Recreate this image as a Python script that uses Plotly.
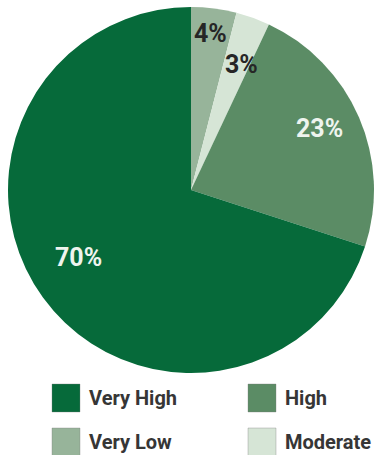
import math
import plotly.graph_objects as go

labels = ["Very Low", "Moderate", "High", "Very High"]
values = [4, 3, 23, 70]
colors = ["#97b49a", "#d6e5d6", "#5b8c65", "#066a3a"]
text_colors = ["#262626", "#262626", "#eef4ee", "#eef4ee"]

legend_order = ["Very High", "High", "Very Low", "Moderate"]

# label placement style: radial fraction and small angular nudge (deg) per slice
label_r = [0.86, 0.74, 0.78, 0.72]
label_dang = [0, 2, -2, 5]

FONT = "Roboto, Arial, sans-serif"
W, H = 375, 455
R = 183.0
CX, CY = 191.0, 190.0

fig = go.Figure()
fig.add_trace(go.Pie(
    labels=labels,
    values=values,
    sort=False,
    direction="clockwise",
    rotation=0,
    marker=dict(colors=colors, line=dict(width=0)),
    textinfo="none",
    domain=dict(x=[(CX - R) / W, (CX + R) / W], y=[1 - (CY + R) / H, 1 - (CY - R) / H]),
    showlegend=False,
    hoverinfo="label+percent",
))

total = sum(values)
cum = 0
for i, v in enumerate(values):
    mid = (cum + v / 2) / total * 360 + label_dang[i]
    cum += v
    a = math.radians(mid)
    px = CX + R * label_r[i] * math.sin(a)
    py = CY - R * label_r[i] * math.cos(a)
    fig.add_annotation(xref="paper", yref="paper", x=px / W, y=1 - py / H,
                       xanchor="center", yanchor="middle", showarrow=False,
                       text=f"{v}%",
                       font=dict(family=FONT, size=25, color=text_colors[i], weight="bold"))

# legend drawn as squares + text, in a 2x2 grid
col_x = [52, 248]
row_c = [398, 442]
sq = 28
for i, name in enumerate(legend_order):
    c = colors[labels.index(name)]
    x0 = col_x[i % 2]
    yc = row_c[i // 2]
    fig.add_shape(type="rect", xref="paper", yref="paper",
                  x0=x0 / W, x1=(x0 + sq) / W,
                  y0=1 - (yc + sq / 2) / H, y1=1 - (yc - sq / 2) / H,
                  fillcolor=c, line=dict(width=1, color="rgba(120,120,120,0.35)"))
    fig.add_annotation(xref="paper", yref="paper",
                       x=(x0 + sq + 7) / W, y=1 - yc / H,
                       xanchor="left", yanchor="middle", showarrow=False,
                       text=name, font=dict(family=FONT, size=20, color="#363636", weight="bold"))

fig.update_layout(
    width=W, height=H,
    margin=dict(l=0, r=0, t=0, b=0),
    paper_bgcolor="white",
    plot_bgcolor="white",
)

fig.write_html("out.html",
               config={"displayModeBar": False},
               post_script="document.body.style.margin='0';document.body.style.overflow='hidden';")
